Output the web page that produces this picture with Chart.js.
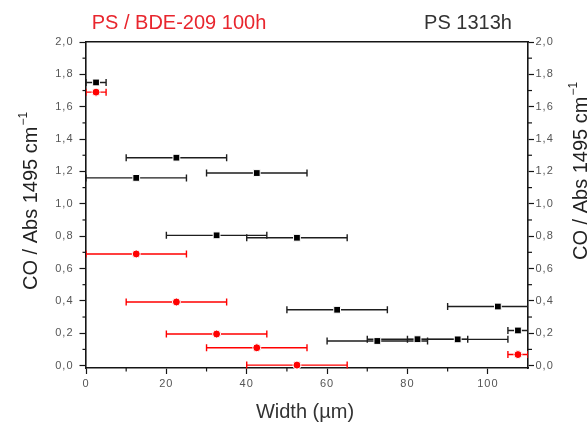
<!DOCTYPE html>
<html>
<head>
<meta charset="utf-8">
<script src="https://cdn.jsdelivr.net/npm/chart.js@4.4.0/dist/chart.umd.min.js"></script>
<style>
  body { margin: 0; background: #fff; }
  #wrap { width: 588px; height: 423px; }
</style>
</head>
<body>
<div id="wrap"><canvas id="myChart" width="588" height="423"></canvas></div>
<script>
// tick labels
var widthTicks = [0, 20, 40, 60, 80, 100];
var coTicks = [0, 0.2, 0.4, 0.6, 0.8, 1.0, 1.2, 1.4, 1.6, 1.8, 2.0];

// PS 1313h (black squares)
var psWidth    = [2.5, 22.5, 12.5, 42.5, 32.5, 52.5, 62.5, 72.5, 82.5, 92.5, 102.5, 107.5];
var psCO       = [1.75, 1.285, 1.16, 1.19, 0.805, 0.79, 0.345, 0.152, 0.163, 0.162, 0.365, 0.217];
var psWidthErr = [2.5, 12.5, 12.5, 12.5, 12.5, 12.5, 12.5, 12.5, 12.5, 12.5, 12.5, 2.5];

// PS / BDE-209 100h (red circles)
var bdeWidth    = [2.5, 12.5, 22.5, 32.5, 42.5, 52.5, 107.5];
var bdeCO       = [1.69, 0.69, 0.393, 0.195, 0.11, 0.003, 0.068];
var bdeWidthErr = [2.5, 12.5, 12.5, 12.5, 12.5, 12.5, 2.5];

var seriesNames = ['PS / BDE-209 100h', 'PS 1313h'];
var xTitle = 'Width (\u00b5m)';
var yTitle = 'CO / Abs 1495 cm';
var yTitleSup = '\u22121';

var fam = '"Liberation Sans", Arial, sans-serif';
var tickFont = { family: fam, size: 11 };
var tickColor = '#555';
var axisColor = '#151515';

function toPoints(xs, ys) {
  return xs.map(function(x, i) { return { x: x, y: ys[i] }; });
}

function fmt(v) {
  return v.toFixed(1).replace('.', ',');
}

// horizontal error bars, drawn under the markers
var errorBars = {
  id: 'errorBars',
  beforeDatasetsDraw: function(chart) {
    var ctx = chart.ctx, area = chart.chartArea;
    var xs = chart.scales.x, ys = chart.scales.y;
    ctx.save();
    ctx.beginPath();
    ctx.rect(area.left, area.top - 5, area.right - area.left, area.bottom - area.top + 10);
    ctx.clip();
    chart.data.datasets.forEach(function(ds) {
      ctx.strokeStyle = ds.errColor;
      ctx.lineWidth = 1.4;
      ds.data.forEach(function(p, i) {
        var e = ds.errX[i];
        var py = ys.getPixelForValue(p.y);
        var x0 = xs.getPixelForValue(p.x - e);
        var x1 = xs.getPixelForValue(p.x + e);
        ctx.beginPath();
        ctx.moveTo(x0, py); ctx.lineTo(x1, py);
        ctx.moveTo(x0, py - 3.5); ctx.lineTo(x0, py + 3.5);
        ctx.moveTo(x1, py - 3.5); ctx.lineTo(x1, py + 3.5);
        ctx.stroke();
      });
    });
    ctx.restore();
  }
};

// short minor ticks half way between the labelled ones
var minorTicks = {
  id: 'minorTicks',
  afterDraw: function(chart) {
    var ctx = chart.ctx;
    ctx.save();
    ctx.strokeStyle = axisColor;
    ctx.lineWidth = 1.2;
    ['x', 'y', 'y2'].forEach(function(id) {
      var s = chart.scales[id];
      var t = s.ticks;
      for (var i = 0; i < t.length - 1; i++) {
        var mid = (t[i].value + t[i + 1].value) / 2;
        var p = s.getPixelForValue(mid);
        ctx.beginPath();
        if (id === 'x') { ctx.moveTo(p, s.top); ctx.lineTo(p, s.top + 3.5); }
        else if (id === 'y') { ctx.moveTo(s.right, p); ctx.lineTo(s.right - 3.5, p); }
        else { ctx.moveTo(s.left, p); ctx.lineTo(s.left + 4, p); }
        ctx.stroke();
      }
    });
    ctx.restore();
  }
};

// series names on top and axis titles
var texts = {
  id: 'texts',
  beforeDraw: function(chart) {
    chart.ctx.letterSpacing = '1px';
  },
  afterDraw: function(chart) {
    var ctx = chart.ctx;
    ctx.save();
    ctx.letterSpacing = '0px';
    ctx.textBaseline = 'alphabetic';
    ctx.font = '20px ' + fam;
    ctx.textAlign = 'center';
    ctx.fillStyle = '#e8262e';
    ctx.fillText(seriesNames[0], 179, 29);
    ctx.fillStyle = '#333';
    ctx.fillText(seriesNames[1], 468, 29);
    ctx.fillText(xTitle, 305, 418);

    function yLabel(x, y) {
      ctx.save();
      ctx.translate(x, y);
      ctx.rotate(-Math.PI / 2);
      ctx.textAlign = 'left';
      ctx.fillStyle = '#222';
      ctx.font = '20px ' + fam;
      ctx.fillText(yTitle, 0, 0);
      var w = ctx.measureText(yTitle).width;
      ctx.font = '12px ' + fam;
      ctx.fillText(yTitleSup, w + 1, -10);
      ctx.restore();
    }
    yLabel(37, 290);
    yLabel(587, 260);
    ctx.restore();
  }
};

var ctx = document.getElementById('myChart').getContext('2d');

var config = {
  type: 'scatter',
  data: {
    datasets: [{
      label: seriesNames[1],
      data: toPoints(psWidth, psCO),
      errX: psWidthErr,
      errColor: '#1e1e1e',
      pointStyle: 'rect',
      pointRadius: 4.8,
      backgroundColor: '#000',
      borderColor: '#fff',
      borderWidth: 1,
      clip: false
    }, {
      label: seriesNames[0],
      data: toPoints(bdeWidth, bdeCO),
      errX: bdeWidthErr,
      errColor: '#ff0000',
      pointStyle: 'circle',
      pointRadius: 4,
      backgroundColor: '#ff0000',
      borderColor: '#fff',
      borderWidth: 1,
      clip: false
    }]
  },
  options: {
    responsive: false,
    devicePixelRatio: 1,
    animation: false,
    events: [],
    layout: { padding: 0 },
    plugins: { legend: { display: false }, tooltip: { enabled: false } },
    scales: {
      x: {
        type: 'linear', position: 'bottom', min: 0, max: 110,
        afterBuildTicks: function(s) { s.ticks = widthTicks.map(function(v) { return { value: v }; }); },
        afterFit: function(s) { s.height = 55; },
        ticks: { font: tickFont, color: tickColor, padding: 3, maxRotation: 0, autoSkip: false },
        grid: { drawOnChartArea: false, tickLength: 6, tickColor: axisColor, tickWidth: 1.2 },
        border: { color: axisColor, width: 1.6 }
      },
      x2: {
        type: 'linear', position: 'top', min: 0, max: 110,
        afterFit: function(s) { s.height = 42; },
        ticks: { display: false },
        grid: { display: false },
        border: { color: axisColor, width: 1.6 }
      },
      y: {
        type: 'linear', position: 'left', min: -0.015, max: 2.0,
        afterBuildTicks: function(s) { s.ticks = coTicks.map(function(v) { return { value: v }; }); },
        afterFit: function(s) { s.width = 86; },
        ticks: { font: tickFont, color: tickColor, padding: 6, callback: function(v) { return fmt(v); } },
        grid: { drawOnChartArea: false, tickLength: 6.5, tickColor: axisColor, tickWidth: 1.2 },
        border: { color: axisColor, width: 1.6 }
      },
      y2: {
        type: 'linear', position: 'right', min: -0.015, max: 2.0,
        afterBuildTicks: function(s) { s.ticks = coTicks.map(function(v) { return { value: v }; }); },
        afterFit: function(s) { s.width = 60; },
        ticks: { font: tickFont, color: tickColor, padding: 1.5, callback: function(v) { return fmt(v); } },
        grid: { drawOnChartArea: false, tickLength: 6, tickColor: axisColor, tickWidth: 1.2 },
        border: { color: axisColor, width: 1.6 }
      }
    }
  },
  plugins: [errorBars, minorTicks, texts]
};

var myChart = new Chart(ctx, config);
</script>
</body>
</html>
